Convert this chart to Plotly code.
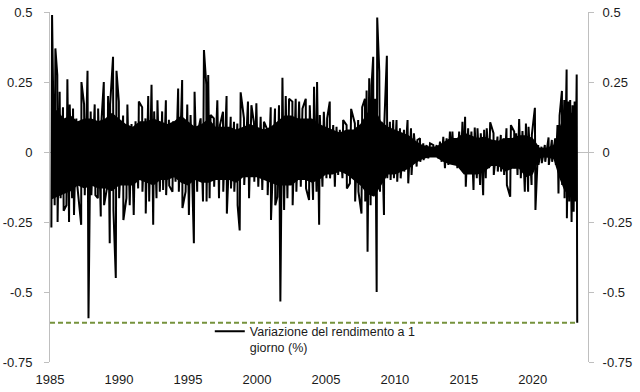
import plotly.graph_objects as go

# ---------------- data ----------------
# positive daily-change peaks (year, value)
peak_years = [
    1985.15, 1985.39, 1985.53, 1985.70, 1985.94, 1986.26, 1986.43, 1986.67, 1986.91, 1987.28,
    1987.47, 1987.72, 1987.95, 1988.24, 1988.49, 1988.68, 1988.90, 1989.21, 1989.36, 1989.57,
    1989.82, 1989.99, 1990.30, 1990.61, 1990.91, 1991.20, 1991.44, 1991.68, 1991.92, 1992.12,
    1992.36, 1992.55, 1992.79, 1993.13, 1993.40, 1993.62, 1993.93, 1994.29, 1994.58, 1994.95,
    1995.19, 1995.48, 1995.72, 1995.92, 1996.16, 1996.33, 1996.47, 1996.64, 1996.88, 1997.13,
    1997.32, 1997.54, 1997.80, 1998.10, 1998.34, 1998.58, 1998.82, 1999.06, 1999.35, 1999.60,
    1999.79, 1999.96, 2000.27, 2000.51, 2000.76, 2001.00, 2001.31, 2001.60, 2001.85, 2002.09,
    2002.33, 2002.57, 2002.81, 2003.06, 2003.30, 2003.54, 2003.83, 2004.14, 2004.36, 2004.56,
    2004.85, 2005.09, 2005.28, 2005.53, 2005.77, 2006.01, 2006.25, 2006.50, 2006.83, 2007.10,
    2007.34, 2007.63, 2007.83, 2007.95, 2008.14, 2008.31, 2008.43, 2008.58, 2008.72, 2008.87,
    2009.04, 2009.23, 2009.42, 2009.64, 2009.88, 2010.12, 2010.37, 2010.66, 2010.92, 2011.17,
    2011.38, 2011.63, 2011.82, 2012.06, 2012.30, 2012.55, 2012.79, 2013.03, 2013.27, 2013.51,
    2013.75, 2013.99, 2014.17, 2014.41, 2014.66, 2014.90, 2015.09, 2015.31, 2015.55, 2015.79,
    2015.99, 2016.23, 2016.47, 2016.66, 2016.91, 2017.15, 2017.44, 2017.68, 2017.87, 2018.09,
    2018.41, 2018.65, 2018.79, 2019.01, 2019.25, 2019.50, 2019.69, 2019.93, 2020.15, 2020.39,
    2020.63, 2020.87, 2021.14, 2021.38, 2021.62, 2021.79, 2021.94, 2022.11, 2022.28, 2022.45,
    2022.59, 2022.71, 2022.88, 2023.03, 2023.18,
]
peak_vals = [
    0.489, 0.370, 0.275, 0.215, 0.160, 0.260, 0.170, 0.155, 0.120, 0.250,
    0.170, 0.290, 0.145, 0.170, 0.155, 0.070, 0.250, 0.200, 0.170, 0.340,
    0.290, 0.180, 0.130, 0.170, 0.100, 0.110, 0.180, 0.160, 0.120, 0.200,
    0.240, 0.145, 0.185, 0.145, 0.185, 0.115, 0.110, 0.227, 0.257, 0.170,
    0.132, 0.215, 0.073, 0.120, 0.364, 0.240, 0.275, 0.132, 0.120, 0.185,
    0.096, 0.144, 0.200, 0.126, 0.108, 0.102, 0.213, 0.120, 0.180, 0.167,
    0.102, 0.174, 0.126, 0.108, 0.079, 0.160, 0.155, 0.167, 0.265, 0.200,
    0.190, 0.180, 0.190, 0.180, 0.155, 0.190, 0.167, 0.233, 0.250, 0.132,
    0.144, 0.120, 0.180, 0.096, 0.090, 0.079, 0.114, 0.096, 0.154, 0.102,
    0.114, 0.160, 0.190, 0.220, 0.263, 0.238, 0.340, 0.190, 0.480, 0.287,
    0.108, 0.096, 0.344, 0.108, 0.114, 0.114, 0.085, 0.079, 0.114, 0.085,
    0.067, 0.043, 0.049, 0.031, 0.025, 0.031, 0.025, 0.025, 0.037, 0.054,
    0.049, 0.073, 0.073, 0.049, 0.073, 0.108, 0.126, 0.085, 0.073, 0.087,
    0.085, 0.067, 0.079, 0.085, 0.106, 0.067, 0.055, 0.061, 0.049, 0.085,
    0.096, 0.073, 0.067, 0.118, 0.075, 0.102, 0.090, 0.061, 0.158, 0.025,
    0.019, 0.025, 0.052, 0.043, 0.049, 0.096, 0.130, 0.218, 0.186, 0.295,
    0.180, 0.186, 0.167, 0.180, 0.277,
]

# negative daily-change troughs (year, value)
trough_years = [
    1985.10, 1985.34, 1985.55, 1985.77, 1985.99, 1986.19, 1986.38, 1986.60, 1986.74, 1986.98,
    1987.26, 1987.52, 1987.79, 1988.00, 1988.29, 1988.47, 1988.68, 1988.92, 1989.16, 1989.33,
    1989.60, 1989.77, 1990.01, 1990.32, 1990.54, 1990.78, 1991.07, 1991.39, 1991.70, 1991.94,
    1992.19, 1992.48, 1992.72, 1992.96, 1993.20, 1993.42, 1993.64, 1993.88, 1994.10, 1994.34,
    1994.60, 1994.83, 1995.07, 1995.43, 1995.67, 1996.09, 1996.35, 1996.57, 1996.90, 1997.25,
    1997.56, 1997.82, 1998.12, 1998.36, 1998.60, 1998.75, 1999.08, 1999.43, 1999.81, 2000.10,
    2000.39, 2000.78, 2001.02, 2001.33, 2001.48, 2001.70, 2001.97, 2002.21, 2002.59, 2002.86,
    2003.18, 2003.56, 2003.78, 2004.07, 2004.32, 2004.51, 2004.75, 2005.04, 2005.30, 2005.65,
    2005.89, 2006.20, 2006.52, 2006.74, 2007.12, 2007.36, 2007.58, 2007.85, 2008.02, 2008.24,
    2008.45, 2008.68, 2008.92, 2009.21, 2009.45, 2009.69, 2009.93, 2010.17, 2010.42, 2010.68,
    2010.97, 2011.21, 2011.58, 2011.84, 2012.08, 2012.42, 2012.81, 2013.15, 2013.39, 2013.63,
    2013.88, 2014.12, 2014.29, 2014.53, 2014.78, 2014.98, 2015.14, 2015.38, 2015.70, 2015.94,
    2016.18, 2016.40, 2016.59, 2016.83, 2017.17, 2017.46, 2017.70, 2017.92, 2018.12, 2018.36,
    2018.67, 2018.89, 2019.13, 2019.42, 2019.66, 2019.91, 2020.19, 2020.41, 2020.65, 2020.90,
    2021.16, 2021.40, 2021.67, 2021.86, 2022.13, 2022.30, 2022.47, 2022.64, 2022.81, 2022.96,
    2023.08, 2023.22,
]
trough_vals = [
    -0.270, -0.190, -0.250, -0.165, -0.210, -0.190, -0.250, -0.165, -0.225, -0.120,
    -0.260, -0.154, -0.594, -0.154, -0.154, -0.165, -0.230, -0.190, -0.120, -0.326,
    -0.210, -0.450, -0.165, -0.243, -0.165, -0.190, -0.225, -0.130, -0.142, -0.220,
    -0.177, -0.260, -0.165, -0.142, -0.136, -0.154, -0.120, -0.142, -0.106, -0.142,
    -0.200, -0.142, -0.225, -0.326, -0.142, -0.177, -0.177, -0.165, -0.124, -0.165,
    -0.142, -0.220, -0.130, -0.142, -0.190, -0.280, -0.118, -0.165, -0.106, -0.124,
    -0.136, -0.154, -0.243, -0.190, -0.160, -0.534, -0.207, -0.165, -0.190, -0.142,
    -0.124, -0.130, -0.171, -0.171, -0.142, -0.260, -0.124, -0.094, -0.094, -0.124,
    -0.082, -0.094, -0.130, -0.112, -0.177, -0.142, -0.220, -0.177, -0.356, -0.190,
    -0.154, -0.500, -0.142, -0.225, -0.094, -0.100, -0.094, -0.106, -0.094, -0.070,
    -0.112, -0.082, -0.052, -0.035, -0.029, -0.023, -0.017, -0.023, -0.035, -0.058,
    -0.046, -0.035, -0.046, -0.058, -0.046, -0.070, -0.124, -0.076, -0.136, -0.094,
    -0.118, -0.154, -0.094, -0.058, -0.082, -0.070, -0.070, -0.082, -0.118, -0.160,
    -0.058, -0.082, -0.094, -0.142, -0.142, -0.118, -0.207, -0.046, -0.040, -0.035,
    -0.046, -0.035, -0.046, -0.148, -0.118, -0.165, -0.237, -0.177, -0.250, -0.213,
    -0.177, -0.610,
]

# dense core of the series (band that reads as solid black)
core_years = [
    1985.1, 1985.5, 1986, 1986.5, 1987, 1987.5, 1988, 1988.5, 1989, 1989.5,
    1990, 1990.5, 1991, 1991.5, 1992, 1992.5, 1993, 1993.5, 1994, 1994.5,
    1995, 1995.5, 1996, 1996.5, 1997, 1997.5, 1998, 1998.5, 1999, 1999.5,
    2000, 2000.5, 2001, 2001.5, 2002, 2002.5, 2003, 2003.5, 2004, 2004.5,
    2005, 2005.5, 2006, 2006.5, 2007, 2007.5, 2008, 2008.5, 2009, 2009.5,
    2010, 2010.5, 2011, 2011.5, 2012, 2012.5, 2013, 2013.5, 2014, 2014.5,
    2015, 2015.5, 2016, 2016.5, 2017, 2017.5, 2018, 2018.5, 2019, 2019.5,
    2020, 2020.5, 2021, 2021.5, 2021.9, 2022.3, 2022.7, 2023.2,
]
core_hi = [
    0.14, 0.15, 0.12, 0.13, 0.11, 0.12, 0.12, 0.11, 0.12, 0.14,
    0.12, 0.10, 0.09, 0.11, 0.11, 0.12, 0.11, 0.10, 0.11, 0.13,
    0.11, 0.09, 0.10, 0.12, 0.09, 0.09, 0.09, 0.08, 0.09, 0.10,
    0.09, 0.08, 0.09, 0.11, 0.13, 0.13, 0.12, 0.12, 0.12, 0.10,
    0.09, 0.08, 0.07, 0.08, 0.08, 0.10, 0.14, 0.16, 0.11, 0.09,
    0.08, 0.07, 0.06, 0.04, 0.025, 0.02, 0.02, 0.035, 0.05, 0.05,
    0.07, 0.06, 0.05, 0.055, 0.045, 0.04, 0.05, 0.05, 0.06, 0.06,
    0.05, 0.015, 0.015, 0.025, 0.08, 0.14, 0.14, 0.14,
]
core_lo = [
    -0.17, -0.16, -0.15, -0.14, -0.12, -0.13, -0.12, -0.13, -0.13, -0.14,
    -0.12, -0.12, -0.12, -0.10, -0.11, -0.12, -0.10, -0.10, -0.09, -0.11,
    -0.12, -0.10, -0.11, -0.11, -0.10, -0.10, -0.10, -0.11, -0.09, -0.09,
    -0.09, -0.10, -0.11, -0.12, -0.12, -0.12, -0.10, -0.10, -0.11, -0.10,
    -0.08, -0.08, -0.07, -0.08, -0.10, -0.12, -0.15, -0.16, -0.12, -0.08,
    -0.08, -0.07, -0.06, -0.04, -0.025, -0.02, -0.02, -0.035, -0.045, -0.05,
    -0.08, -0.08, -0.08, -0.07, -0.05, -0.05, -0.07, -0.06, -0.06, -0.09,
    -0.08, -0.02, -0.02, -0.025, -0.09, -0.14, -0.15, -0.16,
]

x_tick_vals = [1985, 1990, 1995, 2000, 2005, 2010, 2015, 2020]
x_tick_text = ["1985", "1990", "1995", "2000", "2005", "2010", "2015", "2020"]
y_tick_vals = [0.5, 0.25, 0, -0.25, -0.5, -0.75]
y_tick_text = ["0.5", "0.25", "0", "-0.25", "-0.5", "-0.75"]

series_name = "Variazione del rendimento a 1<br>giorno (%)"

# ---------------- build series ----------------
pts = sorted(list(zip(peak_years, peak_vals)) + list(zip(trough_years, trough_vals)))
sx = [p[0] for p in pts]
sy = [p[1] for p in pts]
min_val = min(sy)

FONT = "Liberation Sans, Arial, sans-serif"
GRAY = "#BFBFBF"
TXT = "#1a1a1a"

fig = go.Figure()
fig.add_trace(go.Scatter(x=core_years, y=core_lo, mode="lines", line=dict(width=0, color="black"),
                         showlegend=False, hoverinfo="skip"))
fig.add_trace(go.Scatter(x=core_years, y=core_hi, mode="lines", line=dict(width=0, color="black"),
                         fill="tonexty", fillcolor="black", showlegend=False, hoverinfo="skip"))
fig.add_trace(go.Scatter(x=sx, y=sy, mode="lines", name=series_name,
                         line=dict(color="black", width=2)))
fig.add_trace(go.Scatter(x=[1985.0, sx[-1]], y=[min_val, min_val], mode="lines",
                         line=dict(color="#76923C", width=2, dash="5px,3px"),
                         showlegend=False, yaxis="y2"))

yax = dict(range=[-0.75, 0.5], tickvals=y_tick_vals, ticktext=y_tick_text, automargin=False,
           showline=True, linecolor=GRAY, linewidth=1, ticks="outside", ticklen=5,
           tickcolor=GRAY, showgrid=False, tickfont=dict(family=FONT, size=13, color=TXT))

fig.update_layout(
    width=640, height=392,
    margin=dict(l=50, r=52, t=12, b=30, autoexpand=False),
    paper_bgcolor="white", plot_bgcolor="white",
    font=dict(family=FONT, size=13, color=TXT),
    xaxis=dict(range=[1985, 2024], tickvals=x_tick_vals, ticktext=x_tick_text, automargin=False,
               showline=False, showgrid=False, zeroline=False, ticks="", ticklabelstandoff=8,
               tickfont=dict(family=FONT, size=13, color=TXT)),
    yaxis=dict(**yax, zeroline=True, zerolinecolor=GRAY, zerolinewidth=1, ticklabelstandoff=9),
    yaxis2=dict(**yax, overlaying="y", side="right", zeroline=False, ticklabelstandoff=6),
    showlegend=True,
    legend=dict(x=0.297, y=0.13, xanchor="left", yanchor="top", bgcolor="rgba(0,0,0,0)",
                font=dict(family=FONT, size=12.5, color=TXT), valign="top",
                itemwidth=30, tracegroupgap=0),
)

# place the figure at the page's top-left corner (no default body margin)
fig.write_html("out.html", config={"displayModeBar": False},
               post_script="document.body.style.margin='0px';")
